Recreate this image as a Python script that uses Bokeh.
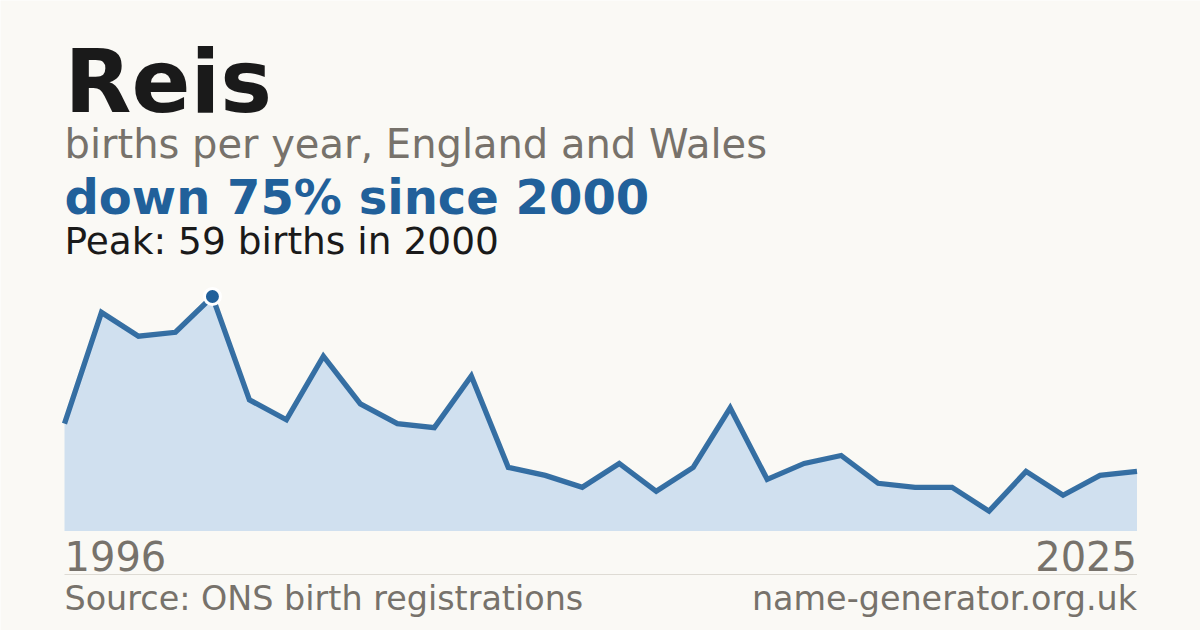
from bokeh.plotting import figure
from bokeh.models import Range1d, Label
from bokeh.embed import file_html
from bokeh.resources import INLINE

# ---- data ----
name = "Reis"
subtitle = "births per year, England and Wales"
source_text = "Source: ONS birth registrations"
site_text = "name-generator.org.uk"
years = list(range(1996, 2026))
births = [27, 55, 49, 50, 59, 33, 28, 44, 32, 27, 26, 39, 16, 14, 11,
          17, 10, 16, 31, 13, 17, 19, 12, 11, 11, 5, 15, 9, 14, 15]

peak_val = max(births)
peak_year = years[births.index(peak_val)]
change = round((1 - births[-1] / peak_val) * 100)
headline = f"down {change}% since {peak_year}"
peak_text = f"Peak: {peak_val} births in {peak_year}"

# ---- layout (figure pixels, from top-left) ----
W, H = 1200, 630
X0_PX, X1_PX = 64.0, 1136.5      # first / last year
BASE_PX, TOP_PX = 530.5, 296.0   # value 0 / peak value

ppy = (X1_PX - X0_PX) / (years[-1] - years[0])
ppu = (BASE_PX - TOP_PX) / peak_val
x_start = years[0] - X0_PX / ppy
x_end = x_start + W / ppy
y_top = BASE_PX / ppu
y_bot = -(H - BASE_PX) / ppu

def Y(py):
    return (BASE_PX - py) / ppu

BG = "#faf9f5"
BLUE = "#21609a"
DARK = "#1a1a1a"
GREY = "#77726b"
FONT = "DejaVu Sans"
K = 0.36  # baseline correction (fraction of font size)

p = figure(width=W, height=H, output_backend="svg", toolbar_location=None,
           x_range=Range1d(x_start, x_end), y_range=Range1d(y_bot, y_top),
           min_border=0, min_border_left=0, min_border_right=0,
           min_border_top=0, min_border_bottom=0)
p.xaxis.visible = False
p.yaxis.visible = False
p.grid.visible = False
p.outline_line_color = None
p.background_fill_color = BG
p.border_fill_color = BG

# area + line
p.varea(x=years, y1=[0] * len(years), y2=births, fill_color="#d0e0ef")
p.line(x=years, y=births, line_color=BLUE, line_width=5.3, line_join="miter",
       line_alpha=0.9)
p.scatter(x=[peak_year], y=[peak_val], size=16, fill_color=BLUE,
          line_color="white", line_width=3)

# separator
p.segment(x0=[years[0]], x1=[years[-1]], y0=[Y(574)], y1=[Y(574)],
          line_color="#dedbd4", line_width=1)

def lab(text, px, baseline, size, color, bold=False, align="left"):
    p.add_layout(Label(x=px, y=Y(baseline - K * size), text=text, text_font=FONT,
                       text_font_size=f"{size}px", text_color=color,
                       text_font_style="bold" if bold else "normal",
                       text_align=align, text_baseline="alphabetic"))

lab(name, years[0], 113, 87, DARK, bold=True)
lab(subtitle, years[0], 158, 40, GREY)
lab(headline, years[0], 214, 48, BLUE, bold=True)
lab(peak_text, years[0], 253.5, 37.5, DARK)
lab(str(years[0]), years[0], 570, 40, GREY)
lab(str(years[-1]), years[-1], 570, 40, GREY, align="right")
lab(source_text, years[0], 610.5, 33.4, GREY)
lab(site_text, years[-1], 610.5, 33.4, GREY, align="right")

open("out.html", "w").write(file_html(p, INLINE))
